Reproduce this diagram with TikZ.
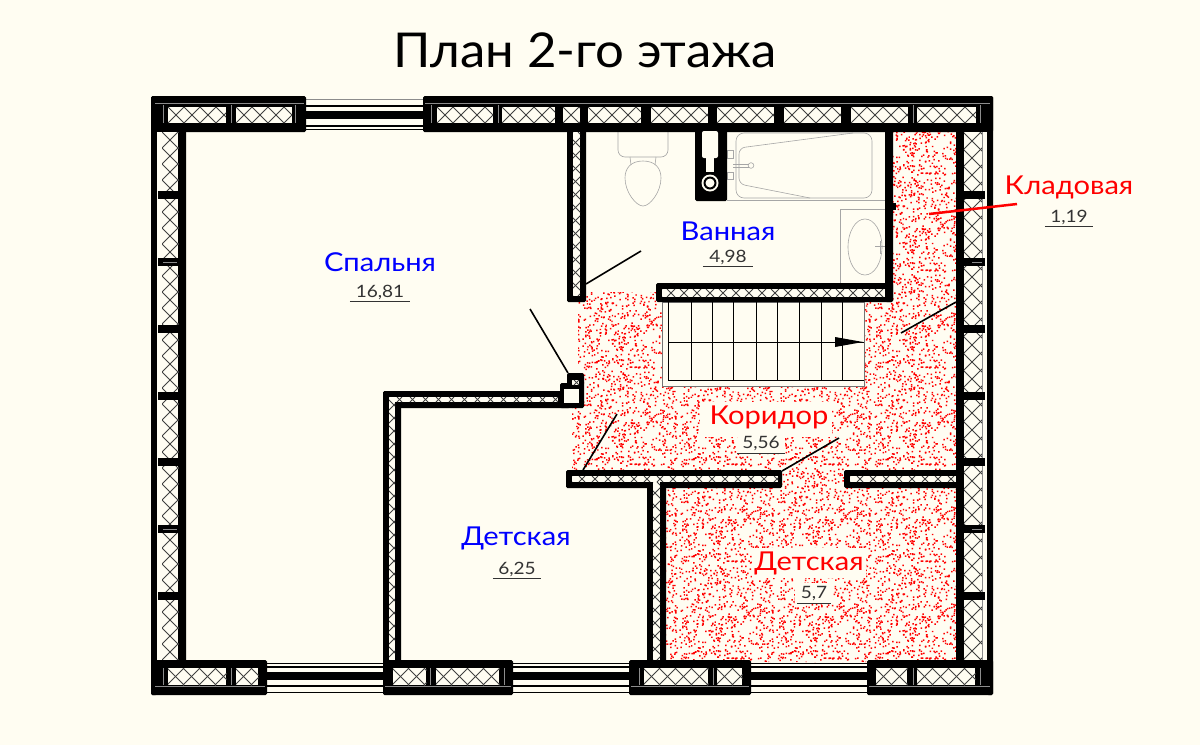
\documentclass[tikz,border=0pt]{standalone}
\usepackage{fontspec}
\setmainfont[FakeStretch=1.12]{Lato}
\newfontfamily\titlefont[FakeStretch=1.06]{Lato}
\usetikzlibrary{patterns}
\definecolor{paper}{HTML}{FFFDF2}
\definecolor{areatext}{HTML}{333333}
\tikzstyle{wall} = [fill=black, rounded corners=1.5pt]
\tikzstyle{pier} = [fill=black]
\tikzstyle{cellhatch} = [draw=black!75, line width=0.75pt]
\tikzstyle{fixture} = [draw=black!35, line width=0.6pt]
\tikzstyle{seam} = [draw=black!45, line width=0.8pt]
\tikzstyle{leaf} = [draw=black, line width=1.6pt]
\tikzstyle{halo} = [fill=paper]
\tikzstyle{roomname} = [font=\fontsize{26}{26}\selectfont, inner sep=0pt]
\tikzstyle{roomarea} = [font=\fontsize{17}{17}\selectfont, text=areatext, inner sep=1.5pt, node distance=30pt]
\tikzstyle{arealine} = [draw=areatext, line width=0.8pt]
% random dots, two tile sizes so that no repeat shows
\pgfdeclarepatternformonly{speckleA}{\pgfqpoint{0pt}{0pt}}{\pgfqpoint{97pt}{97pt}}{\pgfqpoint{97pt}{97pt}}{%
	\pgfmathsetseed{42}%
	\foreach \i in {1,...,620}{%
		\pgfmathrandominteger{\xd}{0}{955}\pgfmathrandominteger{\yd}{0}{955}%
		\pgfpathrectangle{\pgfqpoint{0.1\dimexpr\xd pt\relax}{0.1\dimexpr\yd pt\relax}}{\pgfqpoint{1.5pt}{1.5pt}}\pgfusepath{fill}%
	}%
}
\pgfdeclarepatternformonly{speckleB}{\pgfqpoint{0pt}{0pt}}{\pgfqpoint{131pt}{131pt}}{\pgfqpoint{131pt}{131pt}}{%
	\pgfmathsetseed{7}%
	\foreach \i in {1,...,2300}{%
		\pgfmathrandominteger{\xd}{0}{1295}\pgfmathrandominteger{\yd}{0}{1295}%
		\pgfpathrectangle{\pgfqpoint{0.1\dimexpr\xd pt\relax}{0.1\dimexpr\yd pt\relax}}{\pgfqpoint{1.3pt}{1.3pt}}\pgfusepath{fill}%
	}%
}
% one hatched piece of wall: x0,y0,x1,y1,pitch
\newcommand{\wallcell}[5]{%
	\begin{scope}
		\clip (#1,#2) rectangle (#3,#4);
		\fill[paper] (#1,#2) rectangle (#3,#4);
		\pgfmathsetmacro{\cellH}{#4-#2}
		\pgfmathtruncatemacro{\cellN}{(#3-#1+#4-#2)/#5+1}
		\foreach \k in {0,...,\cellN}{
			\pgfmathsetmacro{\cellA}{#1-\cellH+\k*#5}
			\draw[cellhatch] (\cellA,#2) -- (\cellA+\cellH,#4);
			\draw[cellhatch] (\cellA+\cellH,#2) -- (\cellA,#4);
		}
	\end{scope}%
}
\begin{document}
\begin{tikzpicture}[x=1pt, y=-1pt]
	\useasboundingbox (0,0) rectangle (1200,745);
	\fill[paper] (0,0) rectangle (1200,745);
	
	% Red floor
	\path[pattern=speckleB, pattern color=red!38] (893,131) -- (956,131) -- (956,662) -- (660,662) -- (660,475) -- (572,475) -- (572,408) -- (578,408) -- (578,302) -- (580,292) -- (656,292) -- (656,302) -- (893,302) -- cycle;
	\path[pattern=speckleA, pattern color=red] (893,131) -- (956,131) -- (956,662) -- (660,662) -- (660,475) -- (572,475) -- (572,408) -- (578,408) -- (578,302) -- (580,292) -- (656,292) -- (656,302) -- (893,302) -- cycle;
	\fill[halo] (700,402) rectangle (832,437);
	\fill[halo] (738,437) rectangle (785,453);
	\fill[halo] (752,548) rectangle (866,578);
	\fill[halo] (795,583) rectangle (832,604);
	
	% Stairs
	\draw[fill=paper, draw=black!55, line width=0.8pt] (662,302) rectangle (864,386);
	\draw[black, line width=0.7pt] (668,302) -- (668,380) -- (864,380);
	\draw[black, line width=0.7pt] (668,342) -- (864,342);
	\foreach \x in {691,712,733,756,777,799,821,842}
		\draw[black, line width=0.7pt] (\x,302) -- (\x,380);
	\fill[black] (863,342) -- (835,337) -- (835,347) -- cycle;
	
	% Bathroom fittings
	\draw[fixture, rounded corners=8pt] (736,133) rectangle (872,198);
	\draw[fixture, rounded corners=6pt] (853,133) -- (739,148) -- (739,184) -- (810,198);
	\draw[fixture] (727,200) -- (885,200);
	\draw[fixture] (727,150) rectangle (733,158);
	\draw[fixture] (727,172) rectangle (733,179);
	\draw[fixture] (733,164) -- (749,164) (733,167) -- (749,167);
	\draw[fixture] (751,165.5) circle (2.8pt);
	\draw[fixture, rounded corners=7pt] (618,131) -- (618,157) -- (668,157) -- (668,131);
	\draw[fixture] (630,157) -- (631,165) (656,157) -- (655,165);
	\draw[fixture] (643,161) .. controls (655,161) and (661,168) .. (661,178) .. controls (661,192) and (650,206) .. (643,206) .. controls (636,206) and (625,192) .. (625,178) .. controls (625,168) and (631,161) .. (643,161);
	\draw[fixture] (885,209) -- (840,209) -- (840,283);
	\draw[fixture] (865,247) ellipse (17pt and 28pt);
	\draw[fixture] (875,246) -- (885,246) (880,241) -- (880,254);
	
	% Windows
	\foreach \xa/\xb in {306/423}{
		\draw[seam] (\xa,99.5) -- (\xb,99.5);
		\draw[black, line width=2pt] (\xa,105.5) -- (\xb,105.5);
		\fill[black] (\xa,111) rectangle (\xb,119);
		\draw[black, line width=2pt] (\xa,125.5) -- (\xb,125.5);
		\draw[black, line width=0.7pt] (\xa,129.5) -- (\xb,129.5);
	}
	\foreach \xa/\xb in {267/383,513/629,751/867}{
		\draw[black, line width=0.7pt] (\xa,663) -- (\xb,663);
		\draw[black, line width=2pt] (\xa,666.5) -- (\xb,666.5);
		\fill[black] (\xa,672) rectangle (\xb,680);
		\draw[black, line width=2pt] (\xa,686) -- (\xb,686);
		\draw[black, line width=0.7pt] (\xa,692) -- (\xb,692);
	}
	
	% Outer walls
	\fill[wall] (151,96) rectangle (306,132);
	\fill[wall] (423,96) rectangle (993,132);
	\fill[wall] (151,96) rectangle (157,695);
	\fill[wall] (987,96) rectangle (993,695);
	\fill[wall] (178,125) rectangle (186,665);
	\fill[wall] (956,125) rectangle (964,665);
	\fill[wall] (151,660) rectangle (267,695);
	\fill[wall] (383,660) rectangle (513,695);
	\fill[wall] (629,660) rectangle (751,695);
	\fill[wall] (867,660) rectangle (993,695);
	\foreach \xa/\xb in {168/226,236/292,437/493,502/555,563/580,588/641,651/708,717/774,784/841,851/908,917/976}
		\wallcell{\xa}{107}{\xb}{123}{16}
	\foreach \xa/\xb in {168/226,236/258,393/426,436/499,644/708,717/742,876/907,917/975}
		\wallcell{\xa}{668}{\xb}{685}{16}
	\wallcell{162}{132}{178}{660}{16}
	\wallcell{964}{132}{982}{660}{17}
	\fill[paper] (157,132) rectangle (162,660);
	\fill[paper] (982,132) rectangle (987,660);
	\draw[seam] (982.5,132) -- (982.5,660);
	\foreach \y in {195,262,329,396,462,529,596}{
		\fill[pier] (158,\y-4) rectangle (186,\y+4);
		\fill[pier] (956,\y-4) rectangle (985,\y+4);
	}
	\foreach \y in {262,529}{
		\draw[seam] (163,\y) -- (177,\y);
		\draw[seam] (972,\y) -- (982,\y);
	}
	\fill[pier] (158,125) rectangle (186,132);
	\fill[pier] (158,660) rectangle (186,668);
	\fill[pier] (956,660) rectangle (985,668);
	\draw[seam] (155,103.5) -- (304,103.5) (425,103.5) -- (990,103.5);
	\draw[seam] (155,686) -- (265,686) (385,686) -- (511,686) (631,686) -- (749,686) (869,686) -- (990,686);
	\foreach \x in {163,231,295,431,498,913,980}
		\draw[seam] (\x,105) -- (\x,123);
	\foreach \x in {163,231,430,504,639,713,913,980}
		\draw[seam] (\x,668) -- (\x,685);
	
	% Inner walls
	\fill[wall] (567,125) rectangle (586,302);
	\wallcell{573}{132}{580}{296}{13}
	\fill[wall] (656,283) rectangle (893,302);
	\wallcell{662}{289}{887}{297}{13}
	\fill[wall] (885,125) rectangle (893,302);
	\fill[pier] (893,203) rectangle (896,210);
	\fill[wall] (383,391) rectangle (570,408);
	\fill[wall] (383,391) rectangle (401,665);
	\wallcell{389}{397}{558}{402}{13}
	\wallcell{389}{397}{395}{660}{13}
	\fill[wall] (560,383) rectangle (584,408);
	\fill[wall] (567,373) rectangle (584,386);
	\fill[paper] (564,389) rectangle (579,403);
	\wallcell{572}{380}{579}{385}{7}
	\fill[wall] (566,470) rectangle (782,488);
	\wallcell{572}{476}{778}{482}{13}
	\fill[wall] (844,470) rectangle (958,488);
	\wallcell{850}{476}{956}{482}{13}
	\fill[wall] (647,483) rectangle (666,665);
	\wallcell{653}{482}{660}{660}{13}
	
	% Duct
	\fill[wall] (695,125) rectangle (727,201);
	\fill[paper, rounded corners=2pt] (702,131) rectangle (718,158);
	\fill[paper] (706,156) rectangle (714,172);
	\fill[paper] (710,183) circle (8.5pt);
	\fill[black] (710,183) circle (6.5pt);
	\fill[paper] (710,183) circle (4.5pt);
	
	% Door leaves
	\draw[leaf] (586,284) -- (641,251);
	\draw[leaf] (530,309) -- (568,373);
	\draw[leaf] (583,470) -- (617,414);
	\draw[leaf] (782,471) -- (839,438);
	\draw[leaf] (901,333) -- (956,302);
	\draw[red, line width=2.5pt] (929,214) -- (1017,204);
	
	% Place labels
	\node [font=\titlefont\fontsize{48}{48}\selectfont, inner sep=0pt] (title) at (585,50) {План 2-го этажа};
	\node [roomname, blue] (bedroom) at (380,262) {Спальня};
	\node [roomarea, below of=bedroom, minimum width=60pt] (bedroomArea) {16,81};
	\node [roomname, blue] (bath) at (728,231) {Ванная};
	\node [roomarea, below of=bath, minimum width=50pt, node distance=26pt] (bathArea) {4,98};
	\node [roomname, red] (store) at (1069,187) {Кладовая};
	\node [roomarea, below of=store, minimum width=48pt] (storeArea) {1,19};
	\node [roomname, red] (hall) at (769,417) {Коридор};
	\node [roomarea, below of=hall, minimum width=47pt, xshift=-8pt, node distance=27pt] (hallArea) {5,56};
	\node [roomname, blue] (kidsA) at (516,538) {Детская};
	\node [roomarea, below of=kidsA, minimum width=48pt, xshift=1pt, node distance=31pt] (kidsAArea) {6,25};
	\node [roomname, red] (kidsB) at (809,563) {Детская};
	\node [roomarea, below of=kidsB, minimum width=33pt, xshift=5pt, node distance=31pt] (kidsBArea) {5,7};
	\foreach \room in {bedroomArea,bathArea,storeArea,hallArea,kidsAArea,kidsBArea}
		\draw[arealine] (\room.south west) -- (\room.south east);
\end{tikzpicture}
\end{document}
